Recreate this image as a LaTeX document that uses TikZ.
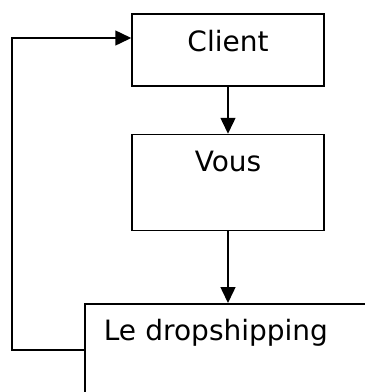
\documentclass[tikz,border=0pt]{standalone}
\usepackage{fontspec}
\setmainfont{DejaVu Sans}
\usetikzlibrary{arrows.meta}
\tikzset{
  box/.style={draw, line width=1.5pt, inner sep=0pt, text height=37pt,
    font=\fontsize{28}{33}\selectfont},
  link/.style={line width=1.5pt, -{Triangle[length=16pt,width=15pt]}}
}

\begin{document}
\begin{tikzpicture}[x=1pt, y=-1pt]
  \useasboundingbox (0,0) rectangle (365,392);
  \clip (0,0) rectangle (365,392);
  % boxes
  \node[box, minimum width=192pt, text depth=35pt] (client) at (228,50) {Client};
  \node[box, minimum width=192pt, text depth=59pt] (vous) at (228,182.5) {Vous};
  \node[box, anchor=north west, text depth=55pt, text width=300pt,
    align=left, inner xsep=19pt] (drop) at (84,303) {Le dropshipping};
  % arrows
  \draw[link] (client) -- (vous);
  \draw[link] (vous.south) -- (vous.south |- drop.north);
  \draw[link] (drop.west) -- ++(-72,0) |- ([yshift=12pt]client.west);
\end{tikzpicture}
\end{document}
